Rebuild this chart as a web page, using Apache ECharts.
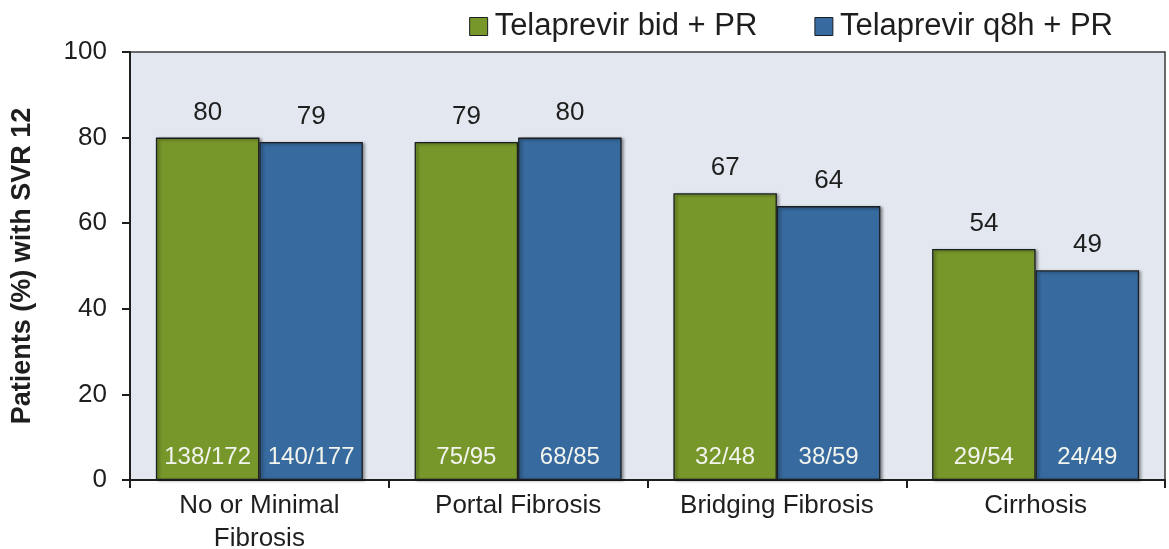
<!DOCTYPE html>
<html><head><meta charset="utf-8">
<script src="https://cdn.jsdelivr.net/npm/echarts@6/dist/echarts.min.js"></script>
<style>html,body{margin:0;padding:0;background:#fff}#c{width:1169px;height:549px}</style>
</head><body><div id="c"></div>
<script>
const categories = ['No or Minimal\nFibrosis', 'Portal Fibrosis', 'Bridging Fibrosis', 'Cirrhosis'];
const seriesNames = ['Telaprevir bid + PR', 'Telaprevir q8h + PR'];
const bidValues = [80, 79, 67, 54];
const q8hValues = [79, 80, 64, 49];
const bidCounts = ['138/172', '75/95', '32/48', '29/54'];
const q8hCounts = ['140/177', '68/85', '38/59', '24/49'];
const yTicks = [0, 20, 40, 60, 80, 100];

const green = '#78972b', blue = '#376a9e';
const font = 'Liberation Sans, Arial, sans-serif';

function barStyle(c) {
  return {
    color: c, borderColor: '#1b1f22', borderWidth: 1.3,
    shadowColor: 'rgba(0,0,0,0.45)', shadowBlur: 3, shadowOffsetX: 2, shadowOffsetY: 1
  };
}
function mainSeries(name, values, counts, color, stack) {
  return {
    name, type: 'bar', stack, data: values, barGap: '0%', barCategoryGap: '20%',
    itemStyle: barStyle(color),
    label: {
      show: true, position: 'insideBottom', distance: 11,
      formatter: p => counts[p.dataIndex],
      color: '#f2f4ee', fontSize: 24, fontFamily: font
    },
    z: 2
  };
}
function topLabelSeries(values, stack) {
  return {
    type: 'bar', stack, data: values.map(() => 0),
    itemStyle: { color: 'transparent' }, silent: true,
    label: {
      show: true, position: 'top', distance: 12,
      formatter: p => String(values[p.dataIndex]),
      color: '#1e1e1e', fontSize: 26, fontFamily: font
    },
    z: 3
  };
}

const chart = echarts.init(document.getElementById('c'), null, { renderer: 'canvas' });
chart.setOption({
  animation: false,
  textStyle: { fontFamily: font },
  legend: {
    data: seriesNames, top: 6, right: 51, itemWidth: 18, itemHeight: 18, itemGap: 57,
    icon: 'rect',
    itemStyle: { borderColor: '#1b1f22', borderWidth: 1 },
    textStyle: { fontSize: 31, color: '#1e1e1e', fontFamily: font, padding: [0, 0, 0, 2] }
  },
  grid: {
    left: 130, right: 4, top: 52, bottom: 69, show: true, containLabel: false,
    outerBoundsMode: 'none',
    backgroundColor: '#e3e8f0', borderColor: '#3a3a3a', borderWidth: 1.5
  },
  xAxis: {
    type: 'category', data: categories,
    axisLine: { lineStyle: { color: '#1e1e1e', width: 2 } },
    axisTick: { show: true, length: 8, lineStyle: { color: '#1e1e1e', width: 2 } },
    axisLabel: { fontSize: 26, color: '#1e1e1e', margin: 9, lineHeight: 33, fontFamily: font }
  },
  yAxis: {
    type: 'value', min: 0, max: 100, interval: 20,
    name: 'Patients (%) with SVR 12', nameLocation: 'middle', nameGap: 94, nameRotate: 90,
    nameTextStyle: { fontSize: 27, fontWeight: 'bold', color: '#1e1e1e', fontFamily: font },
    axisLine: { show: true, lineStyle: { color: '#1e1e1e', width: 2 } },
    axisTick: { show: true, length: 8, lineStyle: { color: '#1e1e1e', width: 2 } },
    axisLabel: { fontSize: 26, color: '#1e1e1e', margin: 23, fontFamily: font,
      formatter: v => yTicks.includes(v) ? String(v) : '' },
    splitLine: { show: false }
  },
  series: [
    mainSeries(seriesNames[0], bidValues, bidCounts, green, 'bid'),
    topLabelSeries(bidValues, 'bid'),
    mainSeries(seriesNames[1], q8hValues, q8hCounts, blue, 'q8h'),
    topLabelSeries(q8hValues, 'q8h')
  ]
});
</script></body></html>
